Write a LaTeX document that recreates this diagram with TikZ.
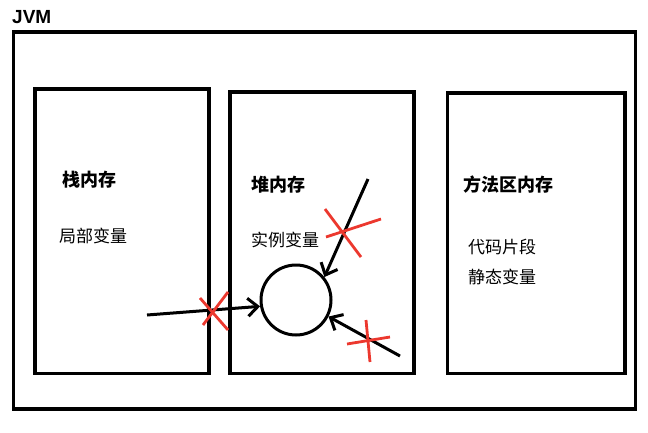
\documentclass[tikz,border=0pt]{standalone}
\usepackage{fontspec}
\setmainfont{Liberation Sans}
\newfontfamily\cjk{Noto Sans CJK SC}
\usetikzlibrary{arrows.meta}
\definecolor{crossred}{RGB}{236,56,46}
\tikzstyle{membox} = [draw, rectangle, line width=3.5pt, inner sep=0pt]
\tikzstyle{title} = [anchor=west, inner sep=0pt, font=\cjk\bfseries\fontsize{18}{18}\selectfont]
\tikzstyle{item} = [anchor=west, inner sep=0pt, font=\cjk\fontsize{17}{17}\selectfont]
\tikzstyle{arrow} = [line width=3pt, -{Straight Barb[length=10pt,width=18pt]}]
\tikzstyle{cross} = [line width=2.8pt, draw=crossred]

\begin{document}
\begin{tikzpicture}[x=1pt,y=-1pt]
\useasboundingbox (0,0) rectangle (648,432);
% memory areas
\node[membox, minimum width=622pt, minimum height=377pt] (jvm) at (324.5,220.5) {};
\node[membox, minimum width=174pt, minimum height=284.5pt] (stack) at (122,231.25) {};
\node[membox, minimum width=184pt, minimum height=281.5pt] (heap) at (322,232.75) {};
\node[membox, minimum width=177.5pt, minimum height=280.5pt] (method) at (536.25,233.25) {};
\node[anchor=west, inner sep=0pt, font=\bfseries\fontsize{19}{19}\selectfont] (jvmlabel) at (12,17) {JVM};
% texts
\node[title] (stacktitle) at (62,180) {栈内存};
\node[item] (local) at (59,236) {局部变量};
\node[title] (heaptitle) at (251,185) {堆内存};
\node[item] (instance) at (251,240) {实例变量};
\node[title] (methodtitle) at (463,185) {方法区内存};
\node[item] (code) at (468,247) {代码片段};
\node[item] (static) at (468,277) {静态变量};
% object and references
\node[circle, draw, line width=3pt, minimum size=70pt, inner sep=0pt] (obj) at (296,300) {};
\coordinate (s1) at (147,315);
\coordinate (s2) at (368,179);
\coordinate (s3) at (400,356);
\draw[arrow] (s1) -- (obj.190);
\draw[arrow] (s2) -- (obj.39);
\draw[arrow] (s3) -- (obj.-27);
% crosses
\draw[cross] (200,298) -- (228,330);
\draw[cross] (228,292) -- (203,325);
\draw[cross] (325,209) -- (361,257);
\draw[cross] (326,237) -- (381,219);
\draw[cross] (366,320) -- (370,362);
\draw[cross] (347,344) -- (390,337);
\end{tikzpicture}
\end{document}
